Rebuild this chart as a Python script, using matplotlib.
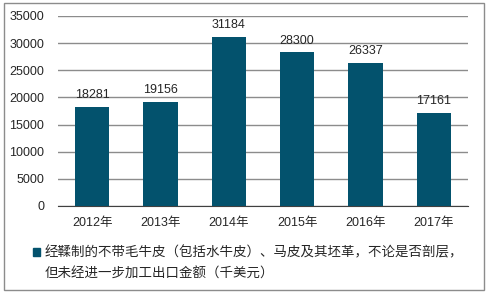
import matplotlib.pyplot as plt
from matplotlib.patches import Rectangle

plt.rcParams['font.family'] = ['Liberation Sans', 'Noto Sans CJK SC', 'DejaVu Sans']

years = ['2012年', '2013年', '2014年', '2015年', '2016年', '2017年']
values = [18281, 19156, 31184, 28300, 26337, 17161]
yticks = [0, 5000, 10000, 15000, 20000, 25000, 30000, 35000]
legend_line1 = '经鞣制的不带毛牛皮（包括水牛皮）、马皮及其坯革，不论是否剖层，'
legend_line2 = '但未经进一步加工出口金额（千美元）'

bar_color = '#03526D'
W, H = 488, 295

fig = plt.figure(figsize=(W / 100, H / 100), dpi=100)
ax = fig.add_axes([58 / W, 1 - 206 / H, 410 / W, 190 / H])

x = range(len(years))
bars = ax.bar(x, values, width=0.5, color=bar_color, zorder=3)
for xi, v in zip(x, values):
    ax.annotate(str(v), (xi, v), xytext=(0, 4), textcoords='offset points',
                ha='center', va='bottom', fontsize=9, color='#262626')

ax.set_xlim(-0.5, len(years) - 0.5)
ax.set_ylim(0, 35000)
ax.set_yticks(yticks)
ax.set_xticks(list(x))
ax.set_xticklabels(years)
ax.tick_params(axis='both', length=0, labelsize=9, colors='#262626')
ax.tick_params(axis='y', pad=10)
ax.tick_params(axis='x', pad=8)
ax.yaxis.grid(True, color='#8c8c8c', linewidth=1)
ax.set_axisbelow(True)
for s in ['top', 'right', 'left']:
    ax.spines[s].set_visible(False)
ax.spines['bottom'].set_color('#404040')

# legend drawn by hand so the second line aligns under the text
fig.patches.append(Rectangle((33 / W, 1 - 256 / H), 7 / W, 8 / H,
                             transform=fig.transFigure, color=bar_color))
fig.text(45 / W, 1 - 252.5 / H, legend_line1, fontsize=9.7, va='center',
         ha='left', color='#262626')
fig.text(45 / W, 1 - 274 / H, legend_line2, fontsize=9.7, va='center',
         ha='left', color='#262626')

# outer border
fig.patches.append(Rectangle((3.5 / W, 1 - 289.5 / H), 480 / W, 287 / H,
                             transform=fig.transFigure, fill=False,
                             edgecolor='#8c8c8c', linewidth=1))

fig.savefig('out.png', dpi=100)
